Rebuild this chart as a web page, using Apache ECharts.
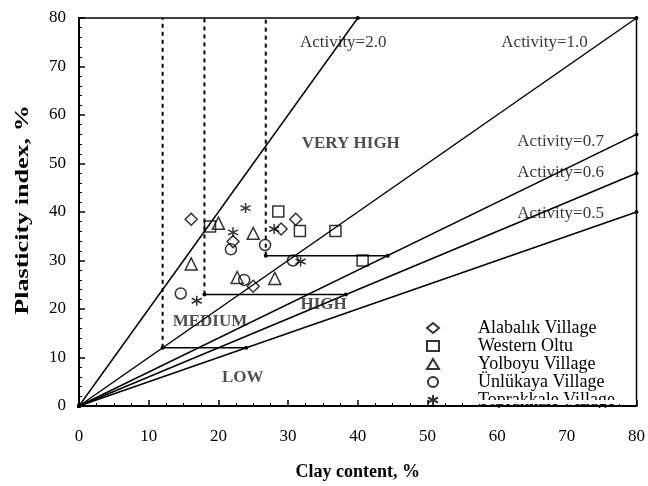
<!DOCTYPE html>
<html><head><meta charset="utf-8">
<script src="https://cdn.jsdelivr.net/npm/echarts@6/dist/echarts.min.js"></script>
<style>html,body{margin:0;padding:0;background:#fff}#c{width:648px;height:486px}</style>
</head><body><div id="c"></div>
<script>
// ---- data ----
const seriesNames = ['Alabalık Village','Western Oltu','Yolboyu Village','Ünlükaya Village','Toprakkale Village'];
const alabalik   = [[16.1,38.5],[31.1,38.5],[29.0,36.5],[22.1,33.9],[25.0,24.7]];
const westernOltu= [[18.8,37.0],[28.6,40.1],[31.7,36.1],[36.8,36.1],[40.7,30.0]];
const yolboyu    = [[20.0,37.7],[16.1,29.3],[25.0,35.6],[22.7,26.5],[28.1,26.3]];
const unlukaya   = [[14.6,23.2],[21.8,32.3],[23.7,26.0],[26.7,33.2],[30.7,30.0]];
const toprakkale = [[16.9,21.7],[23.9,40.8],[22.1,35.8],[28.0,36.5],[31.8,29.8]];
const activityValues = [2.0, 1.0, 0.7, 0.6, 0.5];
const activityLabels = [['Activity=2.0',31.7,75],['Activity=1.0',60.6,75],['Activity=0.7',62.9,54.6],['Activity=0.6',62.9,48.2],['Activity=0.5',62.9,39.6]];
const regionLabels = [['VERY HIGH',39,54.2],['HIGH',35.1,21.0],['MEDIUM',18.8,17.3],['LOW',23.5,5.8]];
// boundary segments: horizontal [y, x1, x2], dotted vertical [x, y1, y2]
const horizontals = [[12,12,24],[23,18,38.3],[31,26.8,44.3]];
const verticals = [[12,12,80],[18,23,80],[26.8,31,80]];
const xTicks = [0,10,20,30,40,50,60,70,80];
const yTicks = [0,10,20,30,40,50,60,70,80];
const xTitle = 'Clay content, %';
const yTitle = 'Plasticity index, %';

const FONT = 'Liberation Serif';
const chart = echarts.init(document.getElementById('c'));
const series = [];
activityValues.forEach(a => {
  const xEnd = Math.min(80, 80 / a);
  series.push({type:'line', data:[[0,0],[xEnd, a*xEnd]], symbol:'circle', symbolSize:4,
    itemStyle:{color:'#000'}, lineStyle:{color:'#000', width:1.5}, silent:true, z:2});
});
horizontals.forEach(h => series.push({type:'line', data:[[h[1],h[0]],[h[2],h[0]]], symbol:'circle', symbolSize:4,
  itemStyle:{color:'#000'}, lineStyle:{color:'#000', width:1.5}, silent:true, z:2}));
verticals.forEach(v => series.push({type:'line', data:[[v[0],v[1]],[v[0],v[2]]], symbol:'none',
  lineStyle:{color:'#000', width:2, type:[4,4]}, silent:true, z:2}));
const mk = (name, data, symbol, size) => ({name, type:'scatter', data, symbol, symbolSize:size,
  itemStyle:{color:'rgba(255,255,255,0)', borderColor:'#000', borderWidth:1.5}, z:5});
series.push(mk(seriesNames[0], alabalik, 'diamond', 12));
series.push(mk(seriesNames[1], westernOltu, 'rect', 11));
series.push(mk(seriesNames[2], yolboyu, 'triangle', 12));
series.push(mk(seriesNames[3], unlukaya, 'circle', 11));
series.push(mk(seriesNames[4], toprakkale, 'path://M5,0L5,10M0,2.5L10,7.5M0,7.5L10,2.5', 10));
series.push({type:'scatter', data:activityLabels.map(d=>[d[1],d[2],d[0]]), symbolSize:0, silent:true,
  label:{show:true, position:'right', distance:0, formatter:p=>p.data[2], color:'#000', fontFamily:FONT, fontSize:17}});
series.push({type:'scatter', data:regionLabels.map(d=>[d[1],d[2],d[0]]), symbolSize:0, silent:true,
  label:{show:true, position:'inside', formatter:p=>p.data[2], color:'#222', fontFamily:FONT, fontSize:17, fontWeight:'bold'}});

chart.setOption({
  animation:false,
  backgroundColor:'#fff',
  grid:{left:79, right:11, top:18, bottom:80, show:true, borderColor:'#000', borderWidth:1.5},
  xAxis:{type:'value', min:0, max:80, interval:10,
    name:xTitle, nameLocation:'middle', nameGap:57,
    nameTextStyle:{fontFamily:FONT, fontSize:18, fontWeight:'bold', color:'#000'},
    axisLine:{lineStyle:{color:'#000', width:2}},
    axisTick:{inside:true, length:6, lineStyle:{color:'#000', width:1.5}},
    minorTick:{show:true, splitNumber:4, length:3, lineStyle:{color:'#000'}},
    axisLabel:{margin:22, fontFamily:FONT, fontSize:17, color:'#000', formatter:v=>xTicks.includes(v)?String(v):''},
    splitLine:{show:false}},
  yAxis:{type:'value', min:0, max:80, interval:10,
    axisLine:{lineStyle:{color:'#000', width:2}},
    axisTick:{inside:true, length:6, lineStyle:{color:'#000', width:1.5}},
    minorTick:{show:true, splitNumber:5, length:3, lineStyle:{color:'#000'}},
    axisLabel:{margin:13, fontFamily:FONT, fontSize:17, color:'#000', formatter:v=>yTicks.includes(v)?String(v):''},
    splitLine:{show:false}},
  legend:{data:seriesNames, orient:'vertical', left:421, top:314, itemGap:0, itemWidth:12, itemHeight:10,
    textStyle:{fontFamily:FONT, fontSize:18, color:'#000', padding:[0,0,0,34], lineHeight:17}},
  graphic:[
    {type:'text', x:23, y:210, rotation:Math.PI/2, scaleX:1.45,
      style:{text:yTitle, font:'bold 18px "Liberation Serif"', fill:'#000', align:'center', verticalAlign:'middle'}},
    {type:'rect', left:470, top:400, shape:{width:166, height:4}, style:{fill:'#fff'}, z:100},
    {type:'rect', left:420, top:408, shape:{width:216, height:14}, style:{fill:'#fff'}, z:100}
  ],
  series
});
</script></body></html>
